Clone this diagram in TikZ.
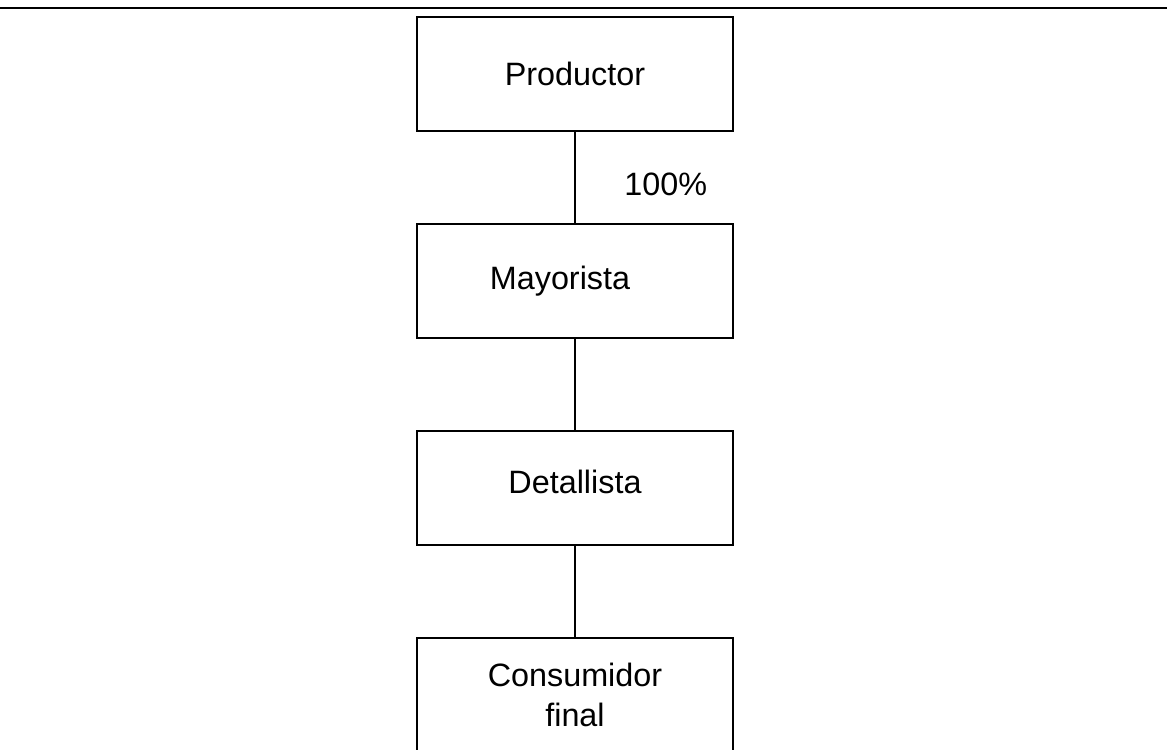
\documentclass[tikz,border=0pt]{standalone}
\usepackage{fontspec}
\setmainfont{Liberation Sans}
\tikzset{
  stagebox/.style={draw,line width=1pt,minimum width=7.9cm,minimum height=2.85cm,
    inner sep=0pt,align=center,font=\fontsize{23}{28}\selectfont},
  link/.style={draw,line width=1pt}
}
\begin{document}
\begin{tikzpicture}[x=0.025cm,y=-0.025cm]
\useasboundingbox (0,0) rectangle (1167,750);
% rule on top of the page
\path[link] (0,8) to (1167,8) ;
% channel stages
\node[stagebox] (prod) at (575,74) {Productor};
\node[stagebox] (mayor) at (575,281) {\hspace*{-0.75cm}Mayorista};
\node[stagebox] (detal) at (575,488) {\raisebox{0.3cm}{Detallista}};
\node[stagebox] (consum) at (575,695) {Consumidor\\final};
% links between stages
\path[link] (prod) to node[pos=0.58,right=1.1cm,font=\fontsize{23}{28}\selectfont] (share) {100\%} (mayor) ;
\path[link] (mayor) to (detal) ;
\path[link] (detal) to (consum) ;
\end{tikzpicture}
\end{document}
